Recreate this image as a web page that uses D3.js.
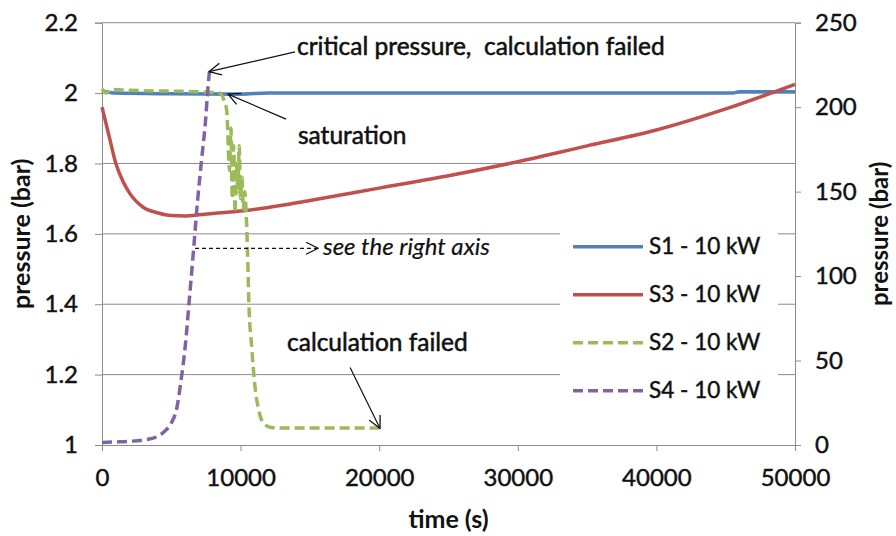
<!DOCTYPE html>
<html>
<head>
<meta charset="utf-8">
<script src="https://cdn.jsdelivr.net/npm/d3@7"></script>
<style>
  body { margin: 0; background: #fff; }
  svg { display: block; font-family: Lato, "Open Sans", sans-serif; }
</style>
</head>
<body>
<div id="chart"></div>
<script>
// séries [temps (s), pression (bar)]
const s1 = [[0, 2.006], [1000, 2.0], [5000, 1.998], [10000, 1.997], [12000, 2.0], [20000, 2.0], [45500, 2.0], [46000, 2.004], [50000, 2.004]];
const s3 = [[0, 1.96], [500, 1.88], [1000, 1.8], [1500, 1.75], [2000, 1.715], [3000, 1.675], [4000, 1.66], [5000, 1.652], [6000, 1.651],
  [7000, 1.654], [8000, 1.658], [10000, 1.665], [12000, 1.675], [15000, 1.695], [20000, 1.73], [25000, 1.765], [30000, 1.805],
  [35000, 1.85], [40000, 1.895], [45000, 1.955], [50000, 2.025]];
const s2 = [[0, 2.012], [300, 2.0], [600, 2.01], [2000, 2.008], [4000, 2.006], [6000, 2.005], [7500, 2.003], [8500, 2.0], [8800, 1.98],
  [9000, 1.95], [9200, 1.78], [9300, 1.9], [9400, 1.7], [9500, 1.85], [9600, 1.66], [9700, 1.8], [9800, 1.72], [9900, 1.85],
  [10000, 1.7], [10100, 1.76], [10200, 1.67], [10300, 1.72], [10400, 1.66], [10500, 1.55], [10600, 1.4], [10800, 1.28],
  [11000, 1.18], [11300, 1.1], [11700, 1.06], [12200, 1.05], [13000, 1.048], [20000, 1.048]];
// S4 sur l'axe de droite
const s4 = [[0, 1.5], [1000, 1.8], [2000, 2.2], [3000, 3], [4000, 5], [4500, 8], [5000, 13], [5400, 22], [5700, 38], [6000, 58],
  [6300, 86], [6600, 115], [6900, 145], [7200, 170], [7450, 190], [7650, 212], [7750, 221]];

const xTicks = [0, 10000, 20000, 30000, 40000, 50000];
const leftTicks = [1, 1.2, 1.4, 1.6, 1.8, 2, 2.2];
const rightTicks = [0, 50, 100, 150, 200, 250];

const series = [
  { name: 'S1 - 10 kW', data: s1, color: '#4F81BD', dash: null, axis: 'left' },
  { name: 'S3 - 10 kW', data: s3, color: '#C0504D', dash: null, axis: 'left' },
  { name: 'S2 - 10 kW', data: s2, color: '#9BBB59', dash: '10,5', axis: 'left' },
  { name: 'S4 - 10 kW', data: s4, color: '#8064A2', dash: '10,5', axis: 'right' }
];

const width = 896, height = 536;
const margin = { top: 22.7, right: 101, bottom: 91, left: 102 };
const innerW = width - margin.left - margin.right;
const innerH = height - margin.top - margin.bottom;
const ink = '#111';

const svg = d3.select('#chart').append('svg').attr('width', width).attr('height', height);
const g = svg.append('g').attr('transform', `translate(${margin.left},${margin.top})`);

const x = d3.scaleLinear().domain([0, 50000]).range([0, innerW]);
const yL = d3.scaleLinear().domain([1, 2.2]).range([innerH, 0]);
const yR = d3.scaleLinear().domain([0, 250]).range([innerH, 0]);

const gridColor = '#8c8c8c';

// grille horizontale
g.append('g').selectAll('line').data(leftTicks.slice(1)).enter().append('line')
  .attr('x1', 0).attr('x2', innerW)
  .attr('y1', d => yL(d)).attr('y2', d => yL(d))
  .attr('stroke', gridColor).attr('stroke-width', 1);

// texte un peu plus "gras" (rendu Calibri agrandi)
const heavy = sel => sel.attr('fill', ink).attr('stroke', ink).attr('stroke-width', 0.45);

// axes
const styleAxis = sel => {
  sel.select('.domain').attr('stroke', gridColor);
  sel.selectAll('.tick line').attr('stroke', gridColor);
  sel.selectAll('.tick text').call(heavy).style('font-size', '24px').attr('font-family', 'Lato, sans-serif');
};

g.append('g').attr('transform', `translate(0,${innerH})`)
  .call(d3.axisBottom(x).tickValues(xTicks).tickFormat(d3.format('d')).tickSizeOuter(0).tickSize(6).tickPadding(18))
  .call(styleAxis);

g.append('g')
  .call(d3.axisLeft(yL).tickValues(leftTicks).tickFormat(d => d3.format('~g')(d)).tickSizeOuter(0).tickSize(7).tickPadding(17))
  .call(styleAxis);

g.append('g').attr('transform', `translate(${innerW},0)`)
  .call(d3.axisRight(yR).tickValues(rightTicks).tickSizeOuter(0).tickSize(6).tickPadding(14))
  .call(styleAxis);

// courbes
series.forEach(s => {
  const yScale = s.axis === 'left' ? yL : yR;
  const line = d3.line().x(d => x(d[0])).y(d => yScale(d[1])).curve(d3.curveMonotoneX);
  g.append('path').datum(s.data)
    .attr('d', line)
    .attr('fill', 'none')
    .attr('stroke', s.color)
    .attr('stroke-width', 3.5)
    .attr('stroke-dasharray', s.dash);
});

// flèches
const defs = svg.append('defs');
defs.append('marker').attr('id', 'arrow')
  .attr('viewBox', '0 0 14 14').attr('refX', 13).attr('refY', 7)
  .attr('markerWidth', 14).attr('markerHeight', 14).attr('markerUnits', 'userSpaceOnUse')
  .attr('orient', 'auto')
  .append('path').attr('d', 'M1,1 L13,7 L1,13').attr('fill', 'none').attr('stroke', ink).attr('stroke-width', 1.3);

const arrows = [
  { from: [13930, yL(2.117)], to: [7720, yR(221)], dash: null },
  { from: [13280, yL(1.926)], to: [9090, yL(1.997)], dash: null },
  { from: [6710, yL(1.559)], to: [15590, yL(1.559)], dash: '4,3' },
  { from: [17900, yL(1.22)], to: [20060, yL(1.047)], dash: null }
];
arrows.forEach(a => {
  g.append('line')
    .attr('x1', x(a.from[0])).attr('y1', a.from[1])
    .attr('x2', x(a.to[0])).attr('y2', a.to[1])
    .attr('stroke', ink).attr('stroke-width', 1.2)
    .attr('stroke-dasharray', a.dash)
    .attr('marker-end', 'url(#arrow)');
});

// annotations (position en unités de données)
const notes = [
  { text: 'critical pressure,  calculation failed', t: 14070, y: yL(2.107), italic: false },
  { text: 'saturation', t: 14140, y: yL(1.854), italic: false },
  { text: 'see the right axis', t: 15950, y: yL(1.54), italic: true },
  { text: 'calculation failed', t: 13350, y: yL(1.268), italic: false }
];
g.selectAll('text.note').data(notes).enter().append('text')
  .attr('class', 'note')
  .attr('x', d => x(d.t)).attr('y', d => d.y)
  .style('white-space', 'pre')
  .style('font-size', d => d.italic ? '24px' : '24.5px')
  .style('font-style', d => d.italic ? 'italic' : 'normal')
  .each(function(d) { d3.select(this).call(heavy).attr('stroke-width', d.italic ? 0.2 : 0.55); })
  .text(d => d.text);

// légende
const legend = g.append('g').attr('transform', `translate(${560 - margin.left},${222 - margin.top})`);
legend.append('rect').attr('width', 218).attr('height', 192).attr('fill', '#fff');
series.forEach((s, i) => {
  const ly = 24.7 + i * 48;
  legend.append('line').attr('x1', 13).attr('x2', 83).attr('y1', ly).attr('y2', ly)
    .attr('stroke', s.color).attr('stroke-width', 3.5).attr('stroke-dasharray', s.dash);
  legend.append('text').attr('x', 89).attr('y', ly + 7).style('font-size', '22.5px').call(heavy).text(s.name);
});

// titres des axes
const title = sel => sel.attr('text-anchor', 'middle').style('font-size', '24px').style('font-weight', 'bold').attr('fill', ink);
svg.append('text').attr('x', margin.left + innerW / 2).attr('y', 528).call(title).style('font-size', '25px').text('time (s)');
svg.append('text').attr('transform', `translate(30,${margin.top + innerH / 2}) rotate(-90)`).call(title).style('font-size', '25px').text('pressure (bar)');
svg.append('text').attr('transform', `translate(888,${margin.top + innerH / 2}) rotate(-90)`).call(title).text('pressure (bar)');
</script>
</body>
</html>
